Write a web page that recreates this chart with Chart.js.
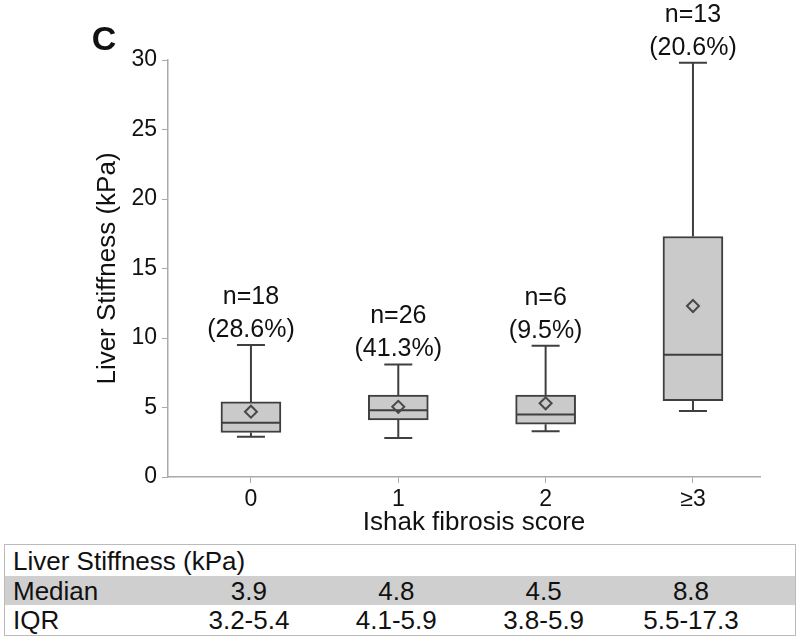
<!DOCTYPE html>
<html>
<head>
<meta charset="utf-8">
<script src="https://cdn.jsdelivr.net/npm/chart.js@4.4.0/dist/chart.umd.min.js"></script>
<style>
  body { margin: 0; background: #fff; font-family: "Liberation Sans", Arial, sans-serif; }
  #wrap { position: relative; width: 800px; height: 639px; }
  #chartBox { position: absolute; left: 0; top: 0; width: 800px; height: 540px; }
  #tbl { position: absolute; left: 4px; top: 544px; width: 790px; height: 90px;
         border: 1.5px solid #bbb; color: #111; font-size: 26px; }
  .row { position: absolute; left: 0; width: 100%; }
  .row span { position: absolute; top: 50%; transform: translate(-50%, -50%); white-space: nowrap; }
  .row span.lab { transform: translate(0, -50%); left: 8px; }
</style>
</head>
<body>
<div id="wrap">
  <div id="chartBox"><canvas id="mycanvas" width="800" height="540"></canvas></div>
  <div id="tbl"></div>
</div>
<script>
// data
var categories = ["0", "1", "2", "\u22653"];
var whiskerLow = [2.9, 2.8, 3.3, 4.75];
var q1 = [3.2, 4.1, 3.8, 5.5];
var median = [3.9, 4.8, 4.5, 8.8];
var q3 = [5.4, 5.9, 5.9, 17.3];
var whiskerHigh = [9.5, 8.1, 9.45, 29.8];
var means = [4.7, 5.05, 5.3, 12.3];
var nCounts = [18, 26, 6, 13];
var nPct = ["28.6%", "41.3%", "9.5%", "20.6%"];
var yTicks = [0, 5, 10, 15, 20, 25, 30];
var tableMedian = ["3.9", "4.8", "4.5", "8.8"];
var tableIQR = ["3.2-5.4", "4.1-5.9", "3.8-5.9", "5.5-17.3"];

var FONT = "'Liberation Sans', Arial, sans-serif";
var LINE = "#3f3f3f";

var boxes = [], meanPts = [];
for (var i = 0; i < categories.length; i++) {
  boxes.push({ x: i, y: [q1[i], q3[i]] });
  meanPts.push({ x: i, y: means[i] });
}

// whiskers + median, drawn right after the boxes
var boxExtras = {
  id: 'boxExtras',
  afterDatasetDraw: function(chart, args) {
    if (args.index !== 0) return;
    var ctx = chart.ctx, y = chart.scales.y;
    var bars = args.meta.data;
    ctx.save();
    ctx.strokeStyle = LINE;
    ctx.lineWidth = 2;
    bars.forEach(function(bar, i) {
      var x = bar.x, half = bar.width / 2, cap = 14;
      var yLo = y.getPixelForValue(whiskerLow[i]);
      var yHi = y.getPixelForValue(whiskerHigh[i]);
      var yQ1 = y.getPixelForValue(q1[i]);
      var yQ3 = y.getPixelForValue(q3[i]);
      var yMed = y.getPixelForValue(median[i]);
      ctx.beginPath();
      ctx.moveTo(x, yQ3); ctx.lineTo(x, yHi);
      ctx.moveTo(x - cap, yHi); ctx.lineTo(x + cap, yHi);
      ctx.moveTo(x, yQ1); ctx.lineTo(x, yLo);
      ctx.moveTo(x - cap, yLo); ctx.lineTo(x + cap, yLo);
      ctx.moveTo(x - half + 1, yMed); ctx.lineTo(x + half - 1, yMed);
      ctx.stroke();
    });
    ctx.restore();
  },
  afterDraw: function(chart) {
    var ctx = chart.ctx, y = chart.scales.y;
    var bars = chart.getDatasetMeta(0).data;
    ctx.save();
    ctx.fillStyle = "#111";
    ctx.textAlign = "center";
    ctx.textBaseline = "middle";
    ctx.font = "25px " + FONT;
    bars.forEach(function(bar, i) {
      var top = y.getPixelForValue(whiskerHigh[i]);
      ctx.fillText("n=" + nCounts[i], bar.x, top - 48);
      ctx.fillText("(" + nPct[i] + ")", bar.x, top - 15);
    });
    ctx.font = "26px " + FONT;
    ctx.fillText("Ishak fibrosis score", 474, 523);
    ctx.font = "bold 34px " + FONT;
    ctx.fillText("C", 104, 41);
    ctx.restore();
  }
};

var ctx = document.getElementById("mycanvas").getContext("2d");
var boxChart = new Chart(ctx, {
  type: 'bar',
  data: {
    datasets: [
      {
        type: 'bar',
        data: boxes,
        backgroundColor: "#cacaca",
        borderColor: LINE,
        borderWidth: 2,
        borderSkipped: false,
        barThickness: 60,
        order: 2
      },
      {
        type: 'line',
        data: meanPts,
        showLine: false,
        pointStyle: 'rectRot',
        pointRadius: 6,
        pointBorderWidth: 2,
        pointBorderColor: "#484848",
        pointBackgroundColor: "rgba(0,0,0,0)",
        order: 1
      }
    ]
  },
  options: {
    responsive: false,
    animation: false,
    events: [],
    layout: { padding: { left: 92, top: 60, right: 40, bottom: 0 } },
    plugins: { legend: { display: false }, tooltip: { enabled: false } },
    scales: {
      x: {
        type: 'linear',
        min: -0.563, max: 3.455,
        offset: false,
        afterBuildTicks: function(s) { s.ticks = categories.map(function(c, i) { return { value: i }; }); },
        grid: { offset: false, drawOnChartArea: false, drawTicks: true, tickLength: 6, color: "#aaa" },
        border: { color: "#aaa", width: 1.5 },
        ticks: { color: "#111", font: { family: FONT, size: 23 }, padding: 3,
                 callback: function(v) { return categories[v]; } },
        afterFit: function(s) { s.height = 63; }
      },
      y: {
        min: 0, max: 30,
        afterBuildTicks: function(s) { s.ticks = yTicks.map(function(v) { return { value: v }; }); },
        grid: { drawOnChartArea: false, drawTicks: true, tickLength: 6, color: "#aaa" },
        border: { color: "#aaa", width: 1.5 },
        ticks: { color: "#111", font: { family: FONT, size: 23 }, padding: 5 },
        title: { display: true, text: "Liver Stiffness (kPa)", color: "#111",
                 font: { family: FONT, size: 26 }, padding: { top: 0, bottom: 0 } },
        afterFit: function(s) { s.width = 76; }
      }
    }
  },
  plugins: [boxExtras]
});

// table under the chart, columns follow the category centres
var tbl = document.getElementById("tbl");
var rows = [
  { top: 0, h: 31, bg: "#fff", label: "Liver Stiffness (kPa)", vals: null },
  { top: 31, h: 29, bg: "#cfcfcf", label: "Median", vals: tableMedian },
  { top: 60, h: 30, bg: "#fff", label: "IQR", vals: tableIQR }
];
var xScale = boxChart.scales.x;
rows.forEach(function(r) {
  var d = document.createElement("div");
  d.className = "row";
  d.style.top = r.top + "px";
  d.style.height = r.h + "px";
  d.style.background = r.bg;
  var lab = document.createElement("span");
  lab.className = "lab";
  lab.textContent = r.label;
  d.appendChild(lab);
  if (r.vals) {
    r.vals.forEach(function(v, i) {
      var s = document.createElement("span");
      s.textContent = v;
      s.style.left = (xScale.getPixelForValue(i) - 7) + "px";
      d.appendChild(s);
    });
  }
  tbl.appendChild(d);
});
</script>
</body>
</html>
